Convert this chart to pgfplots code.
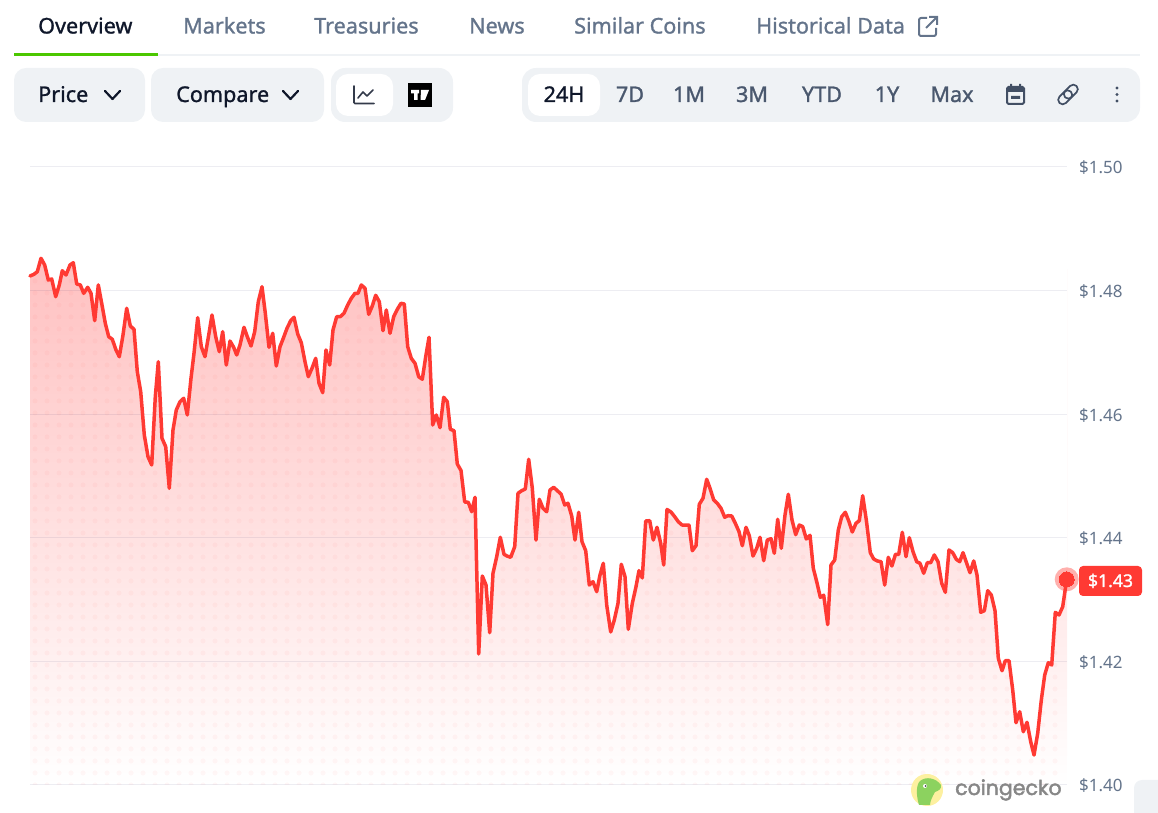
\documentclass[border=0pt]{standalone}
\usepackage{pgfplots}
\usepackage{pgfplotstable}
\usepackage{fontspec}
\pgfplotsset{compat=1.18}
\setmainfont{Noto Sans}
\newfontfamily\med[FakeBold=1.2]{Noto Sans}
\newfontfamily\logofont[FakeBold=2.2]{Poppins}
\definecolor{ink}{HTML}{0F172A}
\definecolor{slate}{HTML}{64748B}
\definecolor{btn}{HTML}{EFF2F5}
\definecolor{lineRed}{HTML}{FF3A33}
\definecolor{gridc}{HTML}{EFF2F5}
\definecolor{greenbar}{HTML}{4BC700}
\definecolor{topfill}{HTML}{FFC0C0}
\definecolor{logoY}{HTML}{FDF0A0}
\definecolor{logoG}{HTML}{8CD25F}
\pgfplotstableread{
x y
30 1.48236
34 1.48264
37.3 1.48306
41 1.48523
44.7 1.48414
48.3 1.48171
51.7 1.48188
55.7 1.47901
59.3 1.48091
62.3 1.48322
66 1.48252
70 1.48414
73.3 1.48451
76.7 1.48107
80.3 1.48091
83.7 1.47956
87.7 1.48053
91 1.47956
94.7 1.47513
98.3 1.48091
102 1.47767
105.3 1.47471
108.7 1.47254
112.3 1.47212
116 1.47039
119.3 1.46930
123 1.47281
126.7 1.47714
130.3 1.47427
134 1.47374
137.3 1.46688
140.7 1.46364
144.3 1.45663
148 1.45312
151.7 1.45178
155.3 1.46283
158.3 1.46849
162 1.45610
165.7 1.45474
169.3 1.44801
173 1.45744
176.3 1.46068
180 1.46202
183.7 1.46257
187.3 1.45987
191 1.46581
194 1.46985
197.7 1.47562
201.3 1.47092
205 1.46930
208.7 1.47281
212 1.47605
215.7 1.47254
219.3 1.47011
222.7 1.47335
226.3 1.46796
230 1.47184
233.7 1.47082
236.7 1.46958
240 1.47120
244 1.47406
247.3 1.47254
251 1.47103
254.7 1.47335
258.3 1.47820
262 1.48063
265.3 1.47633
269 1.47082
272.7 1.47309
276.3 1.46780
280 1.47092
283.3 1.47228
287 1.47390
290.7 1.47513
294 1.47568
297.7 1.47298
301.3 1.47157
305 1.46849
308.3 1.46607
312 1.46743
315.7 1.46904
319 1.46500
322.7 1.46348
326 1.47039
329.7 1.46796
333 1.47362
336.7 1.47578
340.3 1.47578
344 1.47633
347.7 1.47767
351.3 1.47875
355 1.47956
358 1.47956
361.3 1.48091
365 1.48037
368.7 1.47616
372.3 1.47751
375.7 1.47924
379.3 1.47820
383 1.47351
386.3 1.47686
390 1.47309
393.7 1.47578
397.3 1.47697
401 1.47794
404.3 1.47783
407.7 1.47092
411.3 1.46904
415 1.46824
418.7 1.46607
422.3 1.46565
425.7 1.46930
429 1.47244
432.7 1.45825
436.3 1.45987
440 1.45782
443.7 1.46273
447.3 1.46202
450.3 1.45756
454 1.45733
457.3 1.45194
461 1.45089
464.7 1.44579
468.3 1.44574
471.7 1.44422
475 1.44655
478.7 1.42120
482.3 1.43382
486 1.43236
489.7 1.42464
493 1.43426
496.7 1.43694
500.3 1.44008
504 1.43733
507 1.43705
510.7 1.43684
514.7 1.43856
518 1.44720
521.7 1.44762
525.3 1.44790
528.7 1.45270
532.3 1.44801
536 1.43964
539.3 1.44623
543 1.44477
546.7 1.44422
550 1.44773
553.7 1.44817
557.3 1.44762
561 1.44709
564.7 1.44531
568 1.44558
571.7 1.44353
575 1.43964
578.7 1.44413
582 1.43937
585.7 1.43791
589.3 1.43236
593 1.43290
596.7 1.43128
600 1.43398
603.3 1.43587
606.7 1.42913
610.7 1.42476
614.3 1.42670
618 1.42940
621.3 1.43571
625 1.43371
628.3 1.42519
632.3 1.42940
636 1.43209
639 1.43468
642.3 1.43350
645.7 1.44272
649.7 1.44277
653.3 1.43964
657 1.44170
660.7 1.43911
663.7 1.43560
667 1.44458
671 1.44417
674.7 1.44341
678.3 1.44260
682 1.44207
689 1.44207
692.3 1.43791
696 1.43872
699.3 1.44542
703 1.44639
706.7 1.44947
710 1.44801
713.7 1.44612
717.3 1.44558
721 1.44477
724.7 1.44332
728 1.44358
731.7 1.44353
735.3 1.44235
739 1.44099
742.3 1.43872
746 1.44170
749.3 1.44034
753 1.43705
756.7 1.43830
760 1.44008
763.7 1.43629
767.3 1.43964
771 1.43985
774.3 1.43749
777.7 1.44299
781.3 1.43830
785 1.44369
788.3 1.44704
792 1.44288
795.7 1.44050
799.3 1.44207
802.7 1.44180
806.3 1.43981
810 1.44040
813.3 1.43506
816.7 1.43290
820.3 1.43037
823.7 1.43070
827.7 1.42594
831 1.43560
834.7 1.43641
838.3 1.44126
841.7 1.44341
845.3 1.44413
849 1.44260
852.3 1.44094
856 1.44235
859.3 1.44277
862.7 1.44681
866.3 1.44288
870.3 1.43759
873.7 1.43657
877.3 1.43625
881 1.43613
884.7 1.43236
888.3 1.43684
891.9 1.43544
895.5 1.43733
898.7 1.43730
902.3 1.44089
906 1.43694
909.3 1.44002
913 1.43775
916.7 1.43613
920 1.43587
923.7 1.43426
927.3 1.43597
930.7 1.43597
934.3 1.43722
938 1.43613
941.7 1.43264
945.3 1.43118
949 1.43803
952.7 1.43759
956.3 1.43652
959.7 1.43613
963 1.43759
966.7 1.43587
970 1.43435
973.7 1.43625
977 1.43398
980.7 1.42794
984.3 1.42820
987.7 1.43144
991.3 1.43074
995 1.42820
998.3 1.42050
1002 1.41849
1005.3 1.42011
1009 1.42011
1012.7 1.41537
1016 1.41008
1019.7 1.41186
1023.3 1.40862
1027 1.41015
1030.7 1.40701
1034 1.40485
1037.7 1.40837
1041.3 1.41375
1044.7 1.41780
1048.3 1.41979
1051.7 1.41942
1055.3 1.42794
1059 1.42751
1062.7 1.42885
1066.7 1.43328
}\pricedata
\begin{document}
\begin{tikzpicture}[x=1pt,y=1pt]
\path[use as bounding box] (0,0) rectangle (1158,813);
\begin{scope}[shift={(0,813)},y=-1pt]
% gradient and dots under the curve
\shade[top color=topfill,bottom color=white] (30.5,255) rectangle (1067,785);
\begin{scope}
\clip (30.5,255) rectangle (1067,785);
\foreach \k in {0,...,43}{
  \pgfmathsetmacro\py{269+12*\k}
  \draw[line width=5pt,line cap=round,dash pattern=on 0pt off 12pt,color=lineRed,opacity=.04] (35,\py) -- (1066,\py);
}
\end{scope}
\end{scope}
\begin{axis}[at={(30pt,28pt)},anchor=south west,scale only axis,width=1037pt,height=618pt,
  xmin=30,xmax=1067,ymin=1.40,ymax=1.50,clip=false,
  axis line style={draw=none},tick style={draw=none},
  xtick=\empty,ytick={1.40,1.42,1.44,1.46,1.48,1.50},
  yticklabel pos=right,
  yticklabels={\$1.40,\$1.42,\$1.44,\$1.46,\$1.48,\$1.50},
  yticklabel style={font=\fontsize{17}{17}\selectfont,text=slate,anchor=west,xshift=12pt,yshift=-1pt,inner sep=0pt},
]
\addplot[fill=white,draw=none] table[x=x,y=y]{\pricedata} -- (axis cs:1068,1.4965) -- (axis cs:29,1.4965) -- cycle;
\addplot[draw=black!70!blue,opacity=.07,line width=1pt,forget plot] coordinates {(30,1.40)(1067,1.40)};
\addplot[draw=black!70!blue,opacity=.07,line width=1pt,forget plot] coordinates {(30,1.42)(1067,1.42)};
\addplot[draw=black!70!blue,opacity=.07,line width=1pt,forget plot] coordinates {(30,1.44)(1067,1.44)};
\addplot[draw=black!70!blue,opacity=.07,line width=1pt,forget plot] coordinates {(30,1.46)(1067,1.46)};
\addplot[draw=black!70!blue,opacity=.07,line width=1pt,forget plot] coordinates {(30,1.48)(1067,1.48)};
\addplot[draw=black!70!blue,opacity=.07,line width=1pt,forget plot] coordinates {(30,1.50)(1067,1.50)};
\addplot[lineRed,line width=3.5pt,line join=round,line cap=round] table[x=x,y=y]{\pricedata};
\addplot[only marks,mark=*,mark size=12pt,mark options={draw opacity=0,line width=0pt,color=lineRed,fill=lineRed,fill opacity=.4}] coordinates {(1066.7,1.43328)};
\addplot[only marks,mark=*,mark size=7.5pt,mark options={line width=0pt,color=lineRed,fill=lineRed}] coordinates {(1066.7,1.43328)};
\end{axis}
\begin{scope}[shift={(0,813)},y=-1pt]
% price tag
\fill[lineRed,rounded corners=4pt] (1079,566) rectangle (1142,596);
\node[text=white,anchor=base,inner sep=0pt] at (1110.5,587) {\med\fontsize{17.6}{17.6}\selectfont \$1.43};
% tabs
\fill[gridc] (14,54) rectangle (1140,56);
\fill[greenbar] (14,53) rectangle (158,56);
\def\tab#1#2#3{\node[anchor=base west,inner sep=0pt,text=#3] at (#1,33.5) {\med\fontsize{21.6}{21.6}\selectfont #2};}
\tab{38}{Overview}{ink}
\tab{183}{Markets}{slate}
\tab{314}{Treasuries}{slate}
\tab{469}{News}{slate}
\tab{574}{Similar Coins}{slate}
\tab{756}{Historical Data}{slate}
% external link icon
\draw[slate,line width=2pt,rounded corners=2pt] (927,18) -- (919,18) -- (919,36) -- (936,36) -- (936,28);
\draw[slate,line width=2pt] (926,28) -- (936,18) (929,17) -- (937,17) -- (937,25);
% buttons
\fill[btn,rounded corners=12pt] (14,68) rectangle (145,122);
\fill[btn,rounded corners=12pt] (151,68) rectangle (324,122);
\fill[btn,rounded corners=14pt] (331,68) rectangle (453,122);
\fill[white,rounded corners=12pt] (336,74) rectangle (393,116);
\fill[btn,rounded corners=14pt] (522,68) rectangle (1140,122);
\fill[white,rounded corners=12pt] (528,74) rectangle (600,116);
\def\btn#1#2#3{\node[anchor=base,inner sep=0pt,text=#3] at (#1,102) {\med\fontsize{21.6}{21.6}\selectfont #2};}
\node[anchor=base west,inner sep=0pt,text=ink] at (38,102) {\med\fontsize{21.6}{21.6}\selectfont Price};
\node[anchor=base west,inner sep=0pt,text=ink] at (176,102) {\med\fontsize{21.6}{21.6}\selectfont Compare};
\draw[ink,line width=2.2pt,line cap=round,line join=round] (105,91) -- (112.5,99) -- (120,91);
\draw[ink,line width=2.2pt,line cap=round,line join=round] (283,91) -- (290.5,99) -- (298,91);
% chart icons
\draw[ink!85,line width=1.6pt,line cap=round,rounded corners=1pt] (354,86) -- (354,103.5) -- (374,103.5);
\draw[ink!85,line width=1.6pt,line cap=round,line join=round] (358,98) -- (363,92) -- (367,96) -- (373,90);
\fill[black] (408,83) rectangle (432,107);
\fill[white] (411,90) rectangle (419,93.5) (414,90) rectangle (417.5,100);
\fill[white] (421,90) -- (429,90) -- (425,100) -- (420.5,100) -- cycle;
\btn{564}{24H}{ink}
\btn{630}{7D}{slate!70!ink}
\btn{689}{1M}{slate!70!ink}
\btn{752}{3M}{slate!70!ink}
\btn{822}{YTD}{slate!70!ink}
\btn{887}{1Y}{slate!70!ink}
\btn{952}{Max}{slate!70!ink}
% calendar
\draw[slate!60!ink,line width=2pt,rounded corners=1.5pt] (1007,87) rectangle (1024,104);
\fill[slate!60!ink] (1007,87) rectangle (1024,92) (1010,84) rectangle (1012,88) (1019,84) rectangle (1021,88) (1011,96) rectangle (1020,99);
% link
\begin{scope}[rotate around={45:(1068,94.5)}]
\draw[slate!60!ink,line width=1.7pt,rounded corners=4.4pt] (1056,90) rectangle (1072,99);
\draw[slate!60!ink,line width=1.7pt,rounded corners=4.4pt] (1064,90) rectangle (1080,99);
\end{scope}
% kebab
\fill[slate!60!ink] (1117,88) circle (1.7) (1117,94.5) circle (1.7) (1117,101) circle (1.7);
% coingecko logo
\fill[logoY] (927,790) circle (16);
\fill[logoG] (919,805) .. controls (916,795) and (916,785) .. (920,781) .. controls (926,776) and (936,778) .. (941,785) .. controls (942,789) and (938,791) .. (935,792) .. controls (932,797) and (930,802) .. (930,805) -- cycle;
\fill[white] (925,786) circle (2);
\fill[black!70] (925.5,786) circle (1);
\node[anchor=base west,inner sep=0pt,text=black!47] at (955,795) {\logofont\fontsize{20.5}{20.5}\selectfont coingecko};
% corner block
\fill[btn,rounded corners=8pt] (1134,830) -- (1134,780) -- (1175,780) -- (1175,830) -- cycle;
\end{scope}
\end{tikzpicture}
\end{document}
